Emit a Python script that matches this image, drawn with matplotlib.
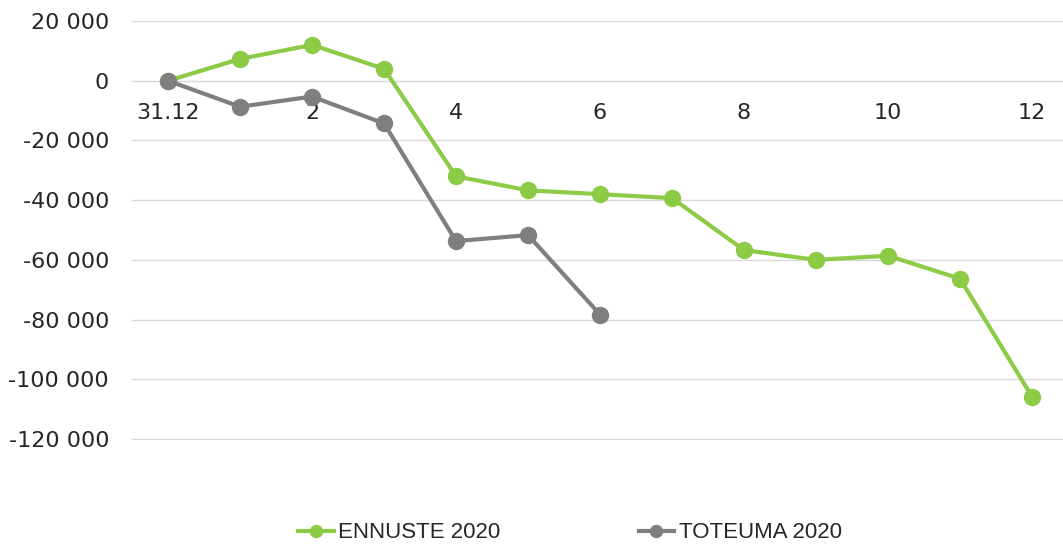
import matplotlib
matplotlib.use("Agg")
import matplotlib.pyplot as plt
from matplotlib.ticker import FuncFormatter

plt.rcParams['font.family'] = ['Liberation Sans', 'DejaVu Sans']

categories = ["31.12", "1", "2", "3", "4", "5", "6", "7", "8", "9", "10", "11", "12"]
ennuste = [0, 7300, 12000, 4000, -32000, -36700, -38000, -39300, -56700, -60000, -58600, -66300, -105800]
toteuma = [0, -8700, -5300, -14300, -53700, -51700, -78300]
shown_labels = ["31.12", "", "2", "", "4", "", "6", "", "8", "", "10", "", "12"]
y_ticks = [20000, 0, -20000, -40000, -60000, -80000, -100000, -120000]

W, H = 1063, 545
fig = plt.figure(figsize=(W/100, H/100), dpi=100)
left, right, top, bottom = 132, 1063, 21, 440
ax = fig.add_axes([left/W, 1 - bottom/H, (right-left)/W, (bottom-top)/H])

green = '#8DCB47'
gray = '#7F7F7F'
x1 = list(range(len(ennuste)))
x2 = list(range(len(toteuma)))
ax.plot(x1, ennuste, color=green, lw=3, marker='o', ms=11.5, label='ENNUSTE 2020', zorder=3, clip_on=False)
ax.plot(x2, toteuma, color=gray, lw=3, marker='o', ms=11.5, label='TOTEUMA 2020', zorder=4, clip_on=False)

ax.set_xlim(-0.5, 12.43)
ax.set_ylim(-120300, 20000)
ax.set_yticks(y_ticks)
ax.yaxis.set_major_formatter(FuncFormatter(lambda v, p: f"{int(v):,}".replace(",", " ")))
ax.grid(axis='y', color='#D9D9D9', lw=1)
ax.set_axisbelow(True)
for s in ['top', 'right', 'left']:
    ax.spines[s].set_visible(False)
ax.spines['bottom'].set_position(('data', 0))
ax.spines['bottom'].set_color('#D9D9D9')
ax.set_xticks(range(len(categories)))
ax.set_xticklabels(shown_labels)
ax.tick_params(axis='x', length=0, pad=16, labelsize=16, colors='#262626')
ax.tick_params(axis='y', length=0, pad=16.5, labelsize=16, colors='#262626')
for lbl in ax.get_xticklabels() + ax.get_yticklabels():
    lbl.set_family('DejaVu Sans')

leg = fig.legend(loc='center', bbox_to_anchor=(570/W, 1 - 533/H), ncol=2, frameon=False,
                 fontsize=16, handlelength=1.6, handletextpad=0.2, columnspacing=6.2,
                 markerscale=0.75, labelcolor='#262626')
fig.savefig('out.png', dpi=100)
